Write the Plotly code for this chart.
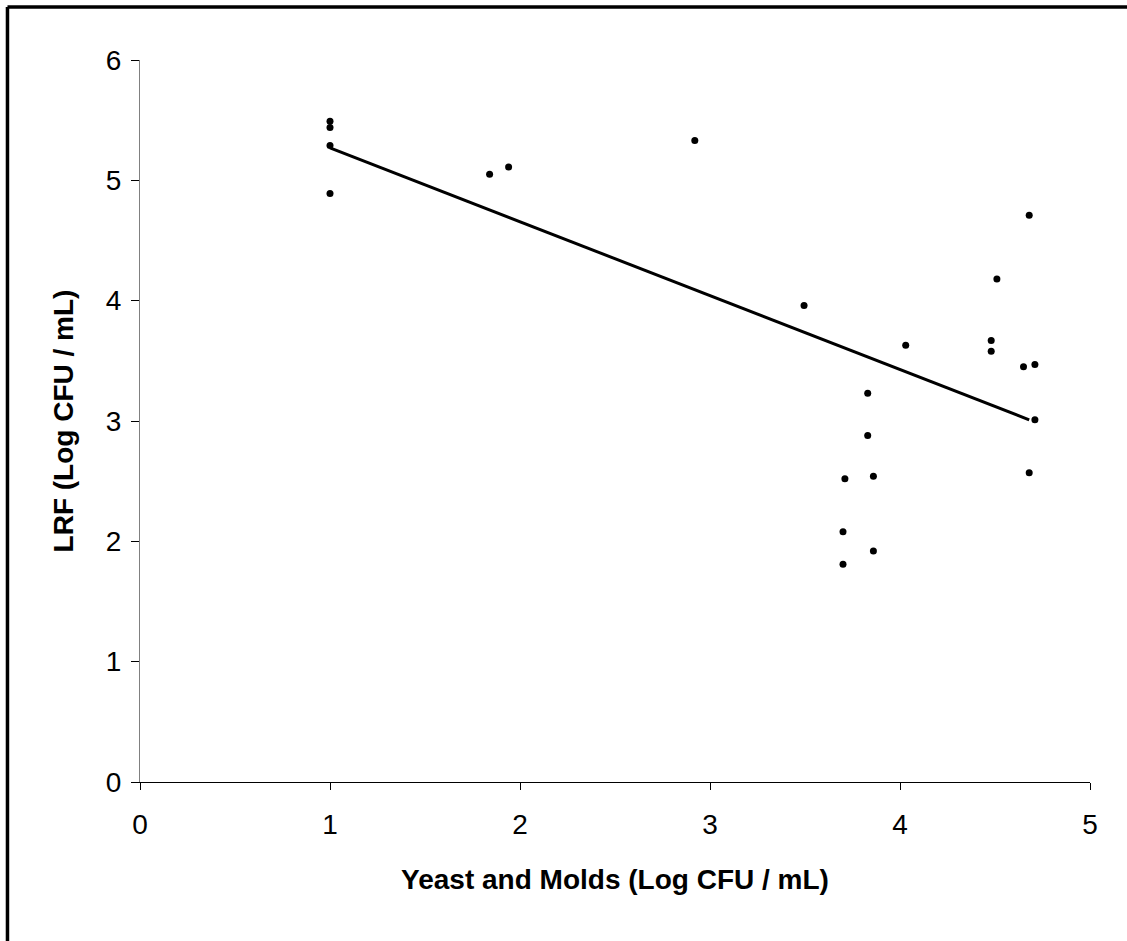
import numpy as np
import plotly.graph_objects as go

# Data
ym = [1.0, 1.0, 1.0, 1.0, 1.84, 1.94, 2.92, 3.495, 4.68, 4.51, 4.03, 4.48, 4.48, 4.65, 4.71,
      3.83, 4.71, 3.83, 3.71, 3.86, 4.68, 3.70, 3.86, 3.70]
lrf = [5.49, 5.44, 5.29, 4.89, 5.05, 5.11, 5.33, 3.96, 4.71, 4.18, 3.63, 3.67, 3.58, 3.45, 3.47,
       3.23, 3.01, 2.88, 2.52, 2.54, 2.57, 2.08, 1.92, 1.81]

trend_x = [1.0, 4.68]
trend_y = [5.27, 3.01]

x_ticks = [0, 1, 2, 3, 4, 5]
y_ticks = [0, 1, 2, 3, 4, 5, 6]

fig = go.Figure()
fig.add_trace(go.Scatter(x=trend_x, y=trend_y, mode="lines",
                         line=dict(color="black", width=3), showlegend=False))
fig.add_trace(go.Scatter(x=ym, y=lrf, mode="markers",
                         marker=dict(color="black", size=7), showlegend=False))

font_family = "Liberation Sans, Arial, sans-serif"
fig.update_layout(
    width=1127, height=941,
    margin=dict(l=140, r=37, t=60, b=159),
    paper_bgcolor="white", plot_bgcolor="white",
    font=dict(family=font_family, size=28, color="black"),
    xaxis=dict(range=[0, 5], tickvals=x_ticks, showgrid=False, zeroline=False,
               showline=True, linecolor="black", linewidth=1,
               ticks="outside", ticklen=7, tickcolor="black",
               tickfont=dict(size=28), ticklabelstandoff=10,
               title=dict(text="<b>Yeast and Molds (Log CFU / mL)</b>", font=dict(size=28), standoff=30)),
    yaxis=dict(range=[0, 6], tickvals=y_ticks, showgrid=False, zeroline=False,
               showline=True, linecolor="#808080", linewidth=1,
               ticks="outside", ticklen=8, tickcolor="black",
               tickfont=dict(size=28), ticklabelstandoff=4,
               title=dict(text="<b>LRF (Log CFU / mL)</b>", font=dict(size=28), standoff=24)),
    shapes=[
        dict(type="line", xref="paper", yref="paper",
             x0=-0.1395, x1=1.05, y0=1.0734, y1=1.0734,
             line=dict(color="black", width=3.5)),
        dict(type="line", xref="paper", yref="paper",
             x0=-0.1395, x1=-0.1395, y0=1.0734, y1=-0.25,
             line=dict(color="black", width=3.5)),
    ],
)

fig.write_html("out.html")
